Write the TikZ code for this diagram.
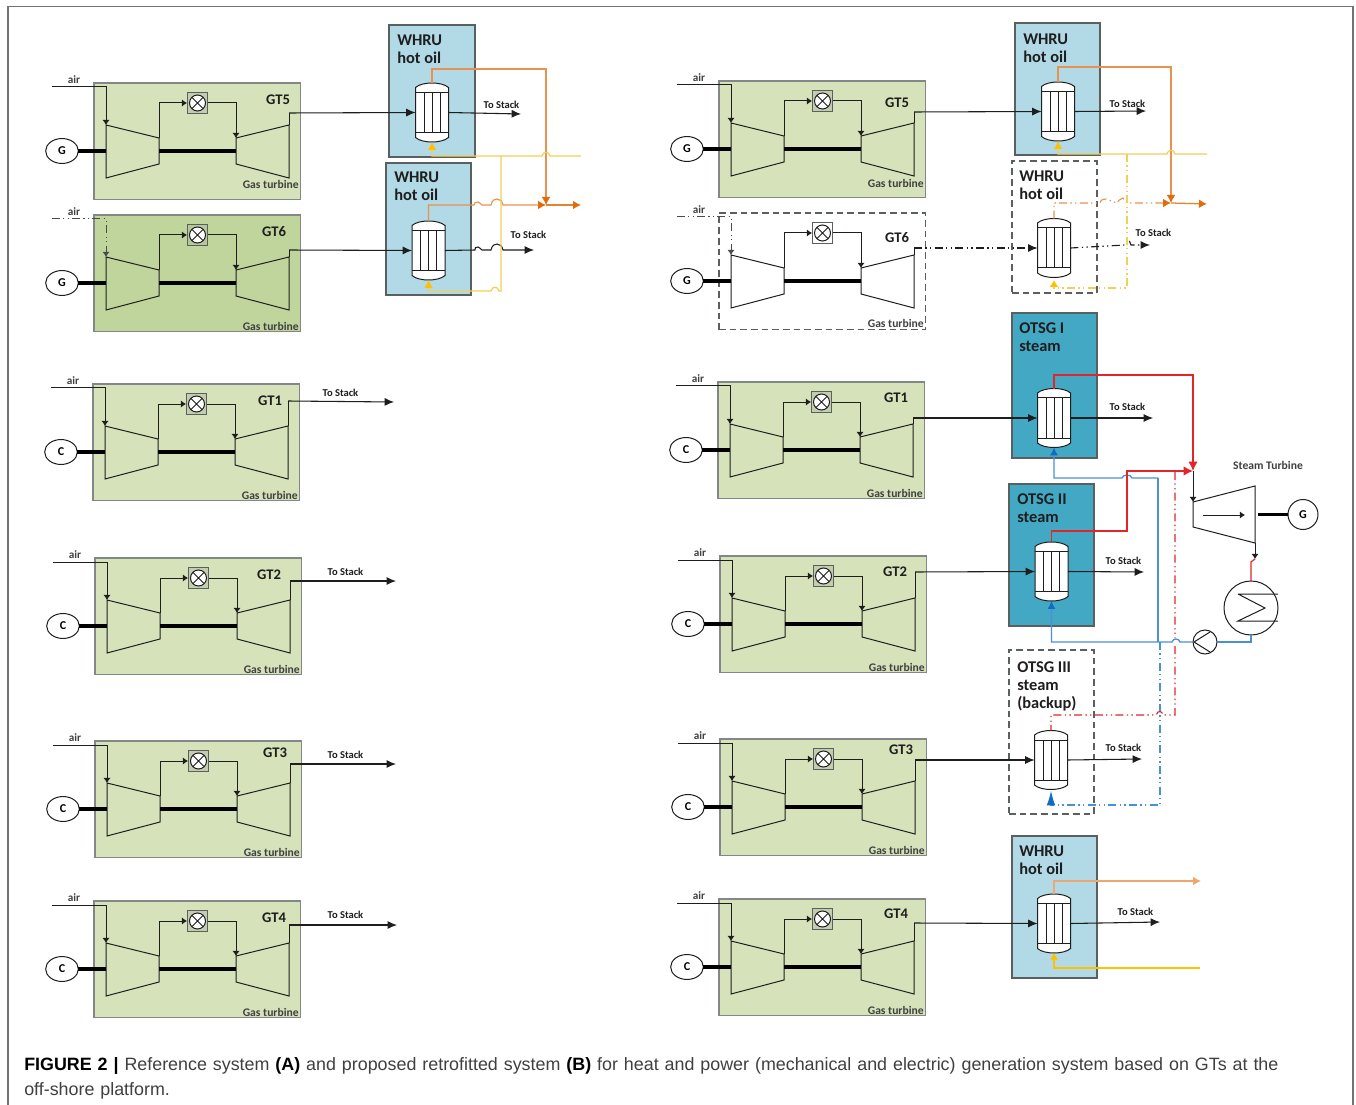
\documentclass[tikz,border=0pt]{standalone}
\usepackage{fontspec}
\setmainfont{Liberation Sans}
\newfontfamily\lab{Carlito}
\usetikzlibrary{arrows.meta}
\usetikzlibrary{shapes.geometric}
\definecolor{gtfill}{HTML}{D5E2BA}
\definecolor{gtdark}{HTML}{C0D59C}
\definecolor{whru}{HTML}{B2D9E6}
\definecolor{otsg}{HTML}{43A8C4}
\definecolor{edge}{HTML}{5A5F60}
\definecolor{ink}{HTML}{1E1E1E}
\definecolor{ol}{HTML}{E9924F}
\definecolor{oh}{HTML}{E36C0A}
\definecolor{yl}{HTML}{F3CF58}
\definecolor{yh}{HTML}{FFC000}
\definecolor{rd}{HTML}{E2252B}
\definecolor{bl}{HTML}{4A90D4}
\definecolor{bh}{HTML}{0F6CC0}
\tikzset{
  gtbox/.style={draw=edge!75,line width=.8pt,fill=gtfill,anchor=north west,minimum width=154.9pt,minimum height=87.4pt,inner sep=0pt,outer sep=0pt},
  gtdash/.style={draw=edge,fill=none,dash pattern=on 5pt off 3pt},
  gtshade/.style={fill=gtdark},
  gttext/.style={font=\lab\bfseries\fontsize{11}{12}\selectfont,text=ink,inner sep=0pt},
  smalltext/.style={font=\lab\bfseries\fontsize{8.7}{9}\selectfont,text=ink!85,inner sep=0pt},
  airtext/.style={font=\lab\bfseries\fontsize{8.4}{9}\selectfont,text=ink!85,inner sep=0pt},
  stacktext/.style={font=\lab\bfseries\fontsize{7.9}{9}\selectfont,text=ink,inner sep=0pt},
  unitbox/.style={draw=edge,line width=.8pt,anchor=north west,inner sep=0pt,outer sep=0pt},
  unitdash/.style={draw=edge,line width=.8pt,dash pattern=on 5pt off 3pt,anchor=north west,inner sep=0pt,outer sep=0pt},
  unittext/.style={font=\lab\bfseries\fontsize{12.3}{13.5}\selectfont,text=ink,align=left,anchor=west,inner sep=0pt},
  turb/.style={draw=ink,line width=.75pt},
  thinl/.style={draw=ink,line width=.75pt},
  shaft/.style={draw=black,line width=2.3pt},
  burnerfill/.style={fill=gtfill!80!gray},
  burner/.style={draw=edge,line width=.75pt,burnerfill,minimum width=15.7pt,minimum height=15.7pt,inner sep=0pt,outer sep=0pt},
  gen/.style={draw=ink,fill=white,line width=.75pt,ellipse,inner sep=0pt,minimum width=24.5pt,minimum height=18.7pt,outer sep=0pt,font=\lab\bfseries\fontsize{9}{9}\selectfont},
  hxnode/.style={minimum width=24.7pt,minimum height=44.2pt,inner sep=0pt,outer sep=0pt},
  small/.style={-{Latex[length=3.8pt,width=5.4pt]}},
  big/.style={-{Latex[length=7pt,width=6pt]}},
  flow/.style={draw=ink,line width=.8pt},
  airline/.style={},
  dd/.style={dash pattern=on 6pt off 2.5pt on .8pt off 2.5pt on .8pt off 2.5pt},
  ddthin/.style={dash pattern=on 6pt off 2.5pt on 1pt off 2.5pt on 1pt off 2.5pt,line width=.85pt},
  ora/.style={draw=ol,line width=.85pt},
  yel/.style={draw=yl,line width=.95pt},
  red/.style={draw=rd,line width=.95pt},
  blu/.style={draw=bl,line width=.95pt},
}
\newcommand{\gasy}{111}
\newcommand{\gtunit}[9]{%
\begin{scope}[shift={(#2,#3)}]
\node[gtbox,#8] (#1) at (0,0) {};
\node[gttext] (#1l) at (#5,#6) {#4};
\node[smalltext,anchor=east] (#1g) at (205,\gasy) {Gas turbine};
\node[airtext] (#1a) at (-20,-3.5) {air};
\coordinate (#1ain) at (-42,4);
\coordinate (#1ci) at (12,42);
\coordinate (#1co) at (65,55);
\coordinate (#1ti) at (142,55);
\coordinate (#1to) at (195,42);
\draw[turb] (#1ci) -- (#1co) -- (65,81) -- (12,95) -- cycle;
\draw[turb] (#1ti) -- (#1to) -- (195,95) -- (142,81) -- cycle;
\node[burner] (#1b) at (103.5,20) {};
\draw[ink,line width=.75pt,fill=white] (#1b.center) circle[radius=6pt];
\draw[ink,line width=.75pt] ([shift={(-4.2pt,-4.2pt)}]#1b.center) -- ([shift={(4.2pt,4.2pt)}]#1b.center)
   ([shift={(-4.2pt,4.2pt)}]#1b.center) -- ([shift={(4.2pt,-4.2pt)}]#1b.center);
\node[gen] (#1gen) at (-32,68) {#7};
\draw[shaft] (#1gen.east) -- (12,68);
\draw[shaft] (65,68) -- (142,68);
\draw[thinl,airline,small] (#1ain) -| (#1ci);
\draw[thinl,small] (#1co) |- (#1b.west);
\draw[thinl,small] (#1b.east) -| (#1ti);
\coordinate (#1x) at (195,#9);
\draw[thinl] (#1to) -- (#1x);
\end{scope}}
\newcommand{\hx}[3]{%
\node[hxnode] (#1) at (#2,#3) {};
\begin{scope}[shift={(#2,#3)}]
\draw[ink,line width=.75pt,fill=white] (-16.5,-25) .. controls (-10,-31) and (10,-31) .. (16.5,-25) -- (16.5,25) .. controls (10,31) and (-10,31) .. (-16.5,25) -- cycle;
\draw[ink,line width=.75pt] (-16.5,-20) -- (16.5,-20) (-16.5,20) -- (16.5,20) (-8,-20) -- (-8,20) (0,-20) -- (0,20) (8,-20) -- (8,20);
\end{scope}}
\newcommand{\unit}[6]{% name,x1,y1,w,h,style
\node[#6,minimum width=#4*.75pt,minimum height=#5*.75pt] (#1) at (#2,#3) {};}
\begin{document}
\begin{tikzpicture}[x=.75pt,y=-.75pt]
\useasboundingbox (0,0) rectangle (1356,1105);
\fill[white] (0,0) rectangle (1356,1105);
\draw[black!55,line width=.9pt] (8,1120) -- (8,6.5) -- (1353,6.5) -- (1353,1120);
%% ---- panel A
\renewcommand{\gasy}{101}
\gtunit{ag5}{94}{83}{GT5}{184}{17}{G}{}{30}
\renewcommand{\gasy}{111}
\begin{scope}[airline/.style={dd,draw=ink!80},burnerfill/.style={fill=gtdark!85!gray}]
\gtunit{ag6}{94}{215}{GT6}{180}{17}{G}{gtshade}{35}
\end{scope}
\gtunit{ag1}{93}{384}{GT1}{177}{17}{C}{}{17}
\gtunit{ag2}{95}{558}{GT2}{174}{17}{C}{}{23}
\gtunit{ag3}{95}{741}{GT3}{180}{12}{C}{}{23}
\gtunit{ag4}{94}{901}{GT4}{180}{17}{C}{}{24}
\foreach \n/\xx/\yy/\lx/\ly/\ex in {1/394/402/340.5/393/0,2/396/581/345.5/572/0,3/396/764/345.5/755/0,4/397/925/345.5/915/0}{
  \node[stacktext] (as\n) at (\lx,\ly) {To Stack};
  \coordinate (ae\n) at (\xx,\yy);
  \draw[flow,big] (ag\n x) -- (ae\n);
}
\unit{au1}{389}{25}{86}{132}{unitbox,fill=whru}
\unit{au2}{386}{163}{85}{132}{unitbox,fill=whru}
\node[unittext] (aut1) at (397,49.5) {WHRU\\hot oil};
\node[unittext] (aut2) at (394,186.5) {WHRU\\hot oil};
\hx{ah1}{432}{112.5}
\hx{ah2}{428.5}{250.5}
\draw[flow,big] (ag5x) -- (ah1.west);
\draw[flow,big] (ag6x) -- (ah2.west);
\node[stacktext] (ast1) at (501.5,105) {To Stack};
\node[stacktext] (ast2) at (528.5,235) {To Stack};
\coordinate (aes1) at (521,114);
\coordinate (aes2) at (534,250);
\draw[flow,big] (ah1.east) -- (aes1);
\draw[flow,big] (ah2.east) -- (475,250) .. controls +(0,-2) and +(-3,0) .. (478,247) .. controls +(2,0) and +(-1,0) .. (482,250) -- (491,250) .. controls +(1,-5) and +(-2,0) .. (497,244) .. controls +(3,0) and +(-1,-4) .. (503,250) -- (aes2);
\coordinate (aoj) at (546,205);
\coordinate (aoe) at (581,205);
\coordinate (ayi) at (581,156);
\coordinate (ayj) at (501,156);
% orange
\draw[ora,-{Latex[length=6pt,width=6.5pt,color=oh]}] (ah1.north) |- (546,69) -- (aoj);
\draw[ora,-{Latex[length=6pt,width=6.5pt,color=oh]}] (ah2.north) |- (474,205) .. controls +(0,-2) and +(-3,0) .. (478,202) .. controls +(2,0) and +(-1,0) .. (482,205) -- (491,205) .. controls +(1,-5) and +(-2,0) .. (497,199) .. controls +(3,0) and +(-1,-4) .. (503,205) -- (aoj);
\draw[draw=oh!85!white,line width=.95pt,-{Latex[length=6pt,width=6.5pt,color=oh]}] (aoj) -- (aoe);
% yellow
\draw[yel,-{Latex[length=6pt,width=6.5pt,color=yh]}] (ayi) -- (550,156) .. controls +(-1,-5) and +(1,-5) .. (542,156) -- (432,156) -- (ah1.south);
\draw[yel,-{Latex[length=6pt,width=6.5pt,color=yh]}] (ayj) -- (501,291) -- (499,291) .. controls +(-1,-5) and +(1,-5) .. (491,291) -- (428.5,291) -- (ah2.south);
%% ---- panel B
\renewcommand{\gasy}{102}
\gtunit{bg5}{719}{81}{GT5}{178}{22}{G}{}{31}
\renewcommand{\gasy}{110.5}
\begin{scope}[airline/.style={dd,draw=ink!80},burnerfill/.style={fill=white}]
\gtunit{bg6}{719}{213}{GT6}{178}{25}{G}{gtdash}{35}
\end{scope}
\renewcommand{\gasy}{111}
\gtunit{bg1}{718}{382}{GT1}{178}{16}{C}{}{36}
\gtunit{bg2}{720}{556}{GT2}{175}{16}{C}{}{16}
\gtunit{bg3}{720}{739}{GT3}{181}{11}{C}{}{21}
\gtunit{bg4}{719}{899}{GT4}{177}{15}{C}{}{24}
\unit{bu1}{1015}{23}{85}{132}{unitbox,fill=whru}
\unit{bu2}{1012}{161}{85}{132}{unitdash}
\unit{bu3}{1012}{313}{85}{145}{unitbox,fill=otsg}
\unit{bu4}{1009}{484}{85}{142}{unitbox,fill=otsg}
\unit{bu5}{1009}{650}{85}{164}{unitdash}
\unit{bu6}{1012}{836}{85}{142}{unitbox,fill=whru}
\node[unittext] (but1) at (1023,48) {WHRU\\hot oil};
\node[unittext] (but2) at (1019,185) {WHRU\\hot oil};
\node[unittext] (but3) at (1019,337) {OTSG I\\steam};
\node[unittext] (but4) at (1017,508) {OTSG II\\steam};
\node[unittext] (but5) at (1017,686.5) {OTSG III\\steam\\(backup)};
\node[unittext] (but6) at (1019,860) {WHRU\\hot oil};
\hx{bh1}{1058}{111.5}
\hx{bh2}{1054}{248}
\hx{bh3}{1054}{418}
\hx{bh4}{1051.5}{571.5}
\hx{bh5}{1051}{760}
\hx{bh6}{1054}{923.5}
\draw[flow,big] (bg5x) -- (bh1.west);
\draw[flow,ddthin,big] (bg6x) -- (bh2.west);
\draw[flow,big] (bg1x) -- (bh3.west);
\draw[flow,big] (bg2x) -- (bh4.west);
\draw[flow,big] (bg3x) -- (bh5.west);
\draw[flow,big] (bg4x) -- (bh6.west);
\foreach \n/\lx/\ly in {1/1127.5/104,2/1153.5/233,3/1127.5/407,4/1123.5/561,5/1123.5/748,6/1135.5/912}{
  \node[stacktext] (bst\n) at (\lx,\ly) {To Stack};
}
\coordinate (bes1) at (1146,111);
\coordinate (bes2) at (1150,245);
\coordinate (bes3) at (1153,418);
\coordinate (bes4) at (1144,572);
\coordinate (bes5) at (1142,759);
\coordinate (bes6) at (1160,922);
\draw[flow,big] (bh1.east) -- (bes1);
\draw[flow,ddthin,big] (bh2.east) -- (1125,245) -- (1129,240) -- (1131,245) -- (bes2);
\draw[flow,big] (bh3.east) -- (bes3);
\draw[flow,big] (bh4.east) -- (bes4);
\draw[flow,big] (bh5.east) -- (bes5);
\draw[flow,big] (bh6.east) -- (bes6);
% hot oil B
\coordinate (boj) at (1171,203);
\coordinate (boe) at (1207,204);
\coordinate (byi) at (1207,154);
\coordinate (byj) at (1127,154);
\draw[ora,-{Latex[length=6pt,width=6.5pt,color=oh]}] (bh1.north) |- (1171,67) -- (boj);
\draw[ora,ddthin,-{Latex[length=6pt,width=6.5pt,color=oh]}] (bh2.north) |- (1100,203) .. controls +(1,-4) and +(-2,0) .. (1106,199) -- (1117,203) .. controls +(1,-2) and +(-3,1) .. (1123,198) -- (1127,203) -- (boj);
\draw[draw=oh!85!white,line width=.95pt,-{Latex[length=6pt,width=6.5pt,color=oh]}] (boj) -- (boe);
\draw[yel,-{Latex[length=6pt,width=6.5pt,color=yh]}] (byi) -- (1175,154) .. controls +(-1,-5) and +(1,-5) .. (1167,154) -- (1058,154) -- (bh1.south);
\draw[yel,ddthin,-{Latex[length=5pt,width=6.5pt,color=yh]}] (byj) -- (1127,288) -- (1054,288) -- ([yshift=-2pt]bh2.south);
\coordinate (bho) at (1201,881);
\coordinate (bhy) at (1200,968);
\draw[draw=ol!80!white,line width=.9pt,-{Latex[length=6pt,width=6.5pt,color=ol!80!white]}] (bh6.north) |- (bho);
\draw[draw=yh,line width=.9pt,-{Latex[length=5pt,width=6.5pt,color=yh]}] (bhy) -| (bh6.south);
% steam cycle
\node[font=\lab\bfseries\fontsize{8.7}{9}\selectfont,text=ink!85,inner sep=0pt] (stl) at (1268,465) {Steam Turbine};
\coordinate (sti) at (1193,502);
\coordinate (sto) at (1255,486);
\coordinate (stb) at (1255,543);
\coordinate (stj) at (1193,471);
\draw[turb] (sti) -- (sto) -- (stb) -- (1193,527) -- cycle;
\coordinate (sta) at (1203,515);
\coordinate (stc) at (1245,515);
\draw[thinl,small] (sta) -- (stc);
\node[draw=ink,line width=.75pt,circle,minimum size=22.5pt,inner sep=0pt,outer sep=0pt,font=\lab\bfseries\fontsize{9}{9}\selectfont,fill=white] (sg) at (1303,514.5) {G};
\coordinate (sts) at (1258,514.5);
\draw[shaft] (sts) -- (sg.west);
\draw[thinl,small] (stj) -- (sti);
\coordinate (cnd) at (1255,559);
\draw[thinl,small] (stb) -- (cnd);
\node[draw=ink,line width=.75pt,circle,minimum size=40.5pt,inner sep=0pt,outer sep=0pt] (cond) at (1251,608) {};
\draw[ink,line width=.75pt] (1238,594) -- (1278,594) (1238,594) -- (1265,608) -- (1238,621) -- (1278,621);
\node[draw=ink,line width=.75pt,circle,minimum size=18pt,inner sep=0pt,outer sep=0pt] (pump) at (1205,642) {};
\draw[ink,line width=.75pt] (1210,632) -- (1194,642) -- (1210,652);
\draw[red] (cnd) -- (1251,562) -- (cond.north);
\draw[blu] (cond.south) |- (pump.east);
\coordinate (bbj) at (1158,642);
\coordinate (bbd) at (1160,642);
\coordinate (bbt) at (1158,478);
\draw[blu,-{Latex[length=6pt,width=6pt,color=bh]}] (pump.west) -- (1180,642) .. controls +(-1,-4) and +(1,-4) .. (1172,642) -- (1051.5,642) -- (bh4.south);
\draw[blu] (bbj) -- (bbt);
\draw[blu,-{Latex[length=6pt,width=6pt,color=bh]}] (bbt) -- (1132,478) .. controls +(-1,-4) and +(1,-4) .. (1122,478) -- (1054,478) -- (bh3.south);
\draw[blu,ddthin,-{Latex[length=11pt,width=6.5pt,color=bh]}] (bbd) -- (1160,805) -- (1051,805) -- ([yshift=-1pt]bh5.south);
\draw[red,-{Latex[length=7pt,width=7pt,color=rd]}] (bh3.north) |- (1193,375) -- (stj);
\draw[red,-{Latex[length=7pt,width=7pt,color=rd]}] (bh4.north) |- (1127,531) -- (1127,471) -- (stj);
\draw[red,ddthin] (1175,472) -- (1175,638) (1175,646) -- (1175,715) -- (1163,715) .. controls +(-1,-4) and +(1,-1) .. (1158,712) -- (1156,715) -- (1051,715) -- (bh5.north);
\node[anchor=north west,inner sep=0pt,text width=942pt,font=\fontsize{13.4}{18.8}\selectfont,text=ink!85] (cap) at (24,1057) {\textcolor{black}{\textbf{FIGURE 2 |}} Reference system \textcolor{black}{\textbf{(A)}} and proposed retrofitted system \textcolor{black}{\textbf{(B)}} for heat and power (mechanical and electric) generation system based on GTs at the off-shore platform.};
\end{tikzpicture}
\end{document}
